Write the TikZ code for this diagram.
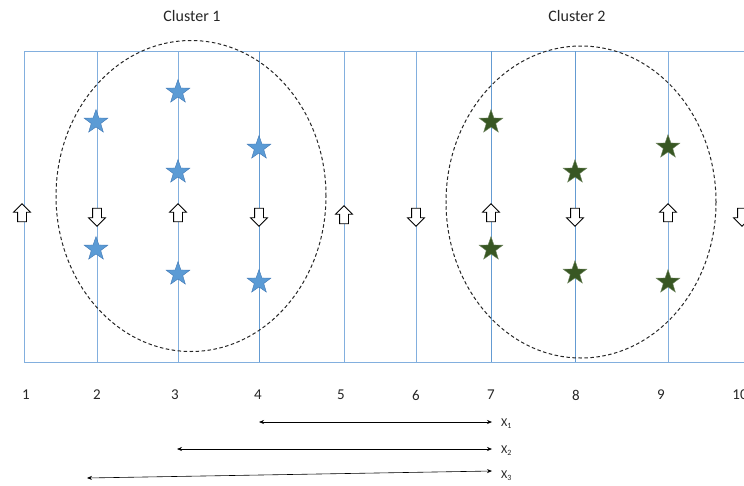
\documentclass[tikz,border=0pt]{standalone}
\usepackage{fontspec}
\setmainfont{Carlito}
\usetikzlibrary{shapes.geometric,shapes.arrows,arrows.meta}
\definecolor{gridblue}{RGB}{130,175,222}
\definecolor{gridblue2}{RGB}{100,155,210}
\definecolor{starblue}{RGB}{91,155,213}
\definecolor{starblueedge}{RGB}{65,120,180}
\definecolor{stargreen}{RGB}{56,87,35}
\tikzset{
  bstar/.style={star, star points=5, star point ratio=2.5, minimum size=25pt, inner sep=0pt, fill=starblue, draw=starblueedge, line width=0.4pt},
  gstar/.style={star, star points=5, star point ratio=2.5, minimum size=25pt, inner sep=0pt, fill=stargreen, draw=stargreen!70!white, line width=0.4pt},
  blockarrow/.style={single arrow, draw=black, fill=white, line width=0.8pt, minimum height=18pt, single arrow head extend=4pt, inner sep=4pt, outer sep=0pt},
  uparrow/.style={blockarrow, shape border rotate=90},
  downarrow/.style={blockarrow, shape border rotate=270},
  cluster/.style={ellipse, draw=black!85, dash pattern=on 3.5pt off 2.5pt, line width=1pt, inner sep=0pt},
  lbl/.style={font=\fontsize{15}{17}\selectfont, text=black!85, inner sep=0pt},
  dist/.style={{Stealth[length=5pt,width=4pt]}-{Stealth[length=5pt,width=4pt]}, line width=0.6pt}
}
\begin{document}
\begin{tikzpicture}[x=1pt,y=-1pt]
\useasboundingbox (0,0) rectangle (744,485);
% grid
\draw[gridblue, line width=0.9pt] (24,51) rectangle (745,362);
\foreach \x/\c in {97/gridblue,178/gridblue,259/gridblue2,344/gridblue,416/gridblue,491/gridblue2,575/gridblue2,668/gridblue}
  \draw[\c, line width=0.9pt] (\x,51) -- (\x,362);
% clusters
\node[cluster, minimum width=270pt, minimum height=311pt] (c1) at (191,196) {};
\node[cluster, minimum width=270pt, minimum height=312pt] (c2) at (581,202) {};
\node[lbl, font=\fontsize{16}{18}\selectfont] (t1) at (192,16) {Cluster 1};
\node[lbl, font=\fontsize{16}{18}\selectfont] (t2) at (577,16) {Cluster 2};
% blue stars
\node[bstar] (b1) at (96,122) {};
\node[bstar] (b2) at (178,92) {};
\node[bstar] (b3) at (178,172) {};
\node[bstar] (b4) at (259,148) {};
\node[bstar] (b5) at (96,249) {};
\node[bstar] (b6) at (178,274) {};
\node[bstar] (b7) at (259,282) {};
% green stars
\node[gstar] (g1) at (491,122) {};
\node[gstar] (g2) at (575,172) {};
\node[gstar] (g3) at (668,147) {};
\node[gstar] (g4) at (491,249) {};
\node[gstar] (g5) at (575,273) {};
\node[gstar] (g6) at (668,282) {};
% block arrows
\node[uparrow] (a1) at (22,215) {};
\node[downarrow] (a2) at (97,215) {};
\node[uparrow] (a3) at (178,215) {};
\node[downarrow] (a4) at (259,215) {};
\node[uparrow] (a5) at (344,217) {};
\node[downarrow] (a6) at (416,215) {};
\node[uparrow] (a7) at (491,215) {};
\node[downarrow] (a8) at (575,215) {};
\node[uparrow] (a9) at (668,215) {};
\node[downarrow] (a10) at (742,215) {};
% axis labels
\foreach \x/\n in {26/1,97/2,175/3,258/4,341/5,416/6,491/7,576/8,661/9,740/10}
  \node[lbl] (n\n) at (\x,395) {\n};
% distance arrows
\coordinate (x1l) at (259,422);
\coordinate (x1r) at (492,422);
\coordinate (x2l) at (177,449);
\coordinate (x2r) at (492,449);
\coordinate (x3l) at (87,478);
\coordinate (x3r) at (492,471);
\draw[dist] (x1l) -- (x1r);
\draw[dist] (x2l) -- (x2r);
\draw[dist] (x3l) -- (x3r);
\node[lbl, anchor=west, font=\fontsize{12}{14}\selectfont] (lx1) at (501,424) {X\textsubscript{1}};
\node[lbl, anchor=west, font=\fontsize{12}{14}\selectfont] (lx2) at (501,451) {X\textsubscript{2}};
\node[lbl, anchor=west, font=\fontsize{12}{14}\selectfont] (lx3) at (501,476) {X\textsubscript{3}};
\end{tikzpicture}
\end{document}
